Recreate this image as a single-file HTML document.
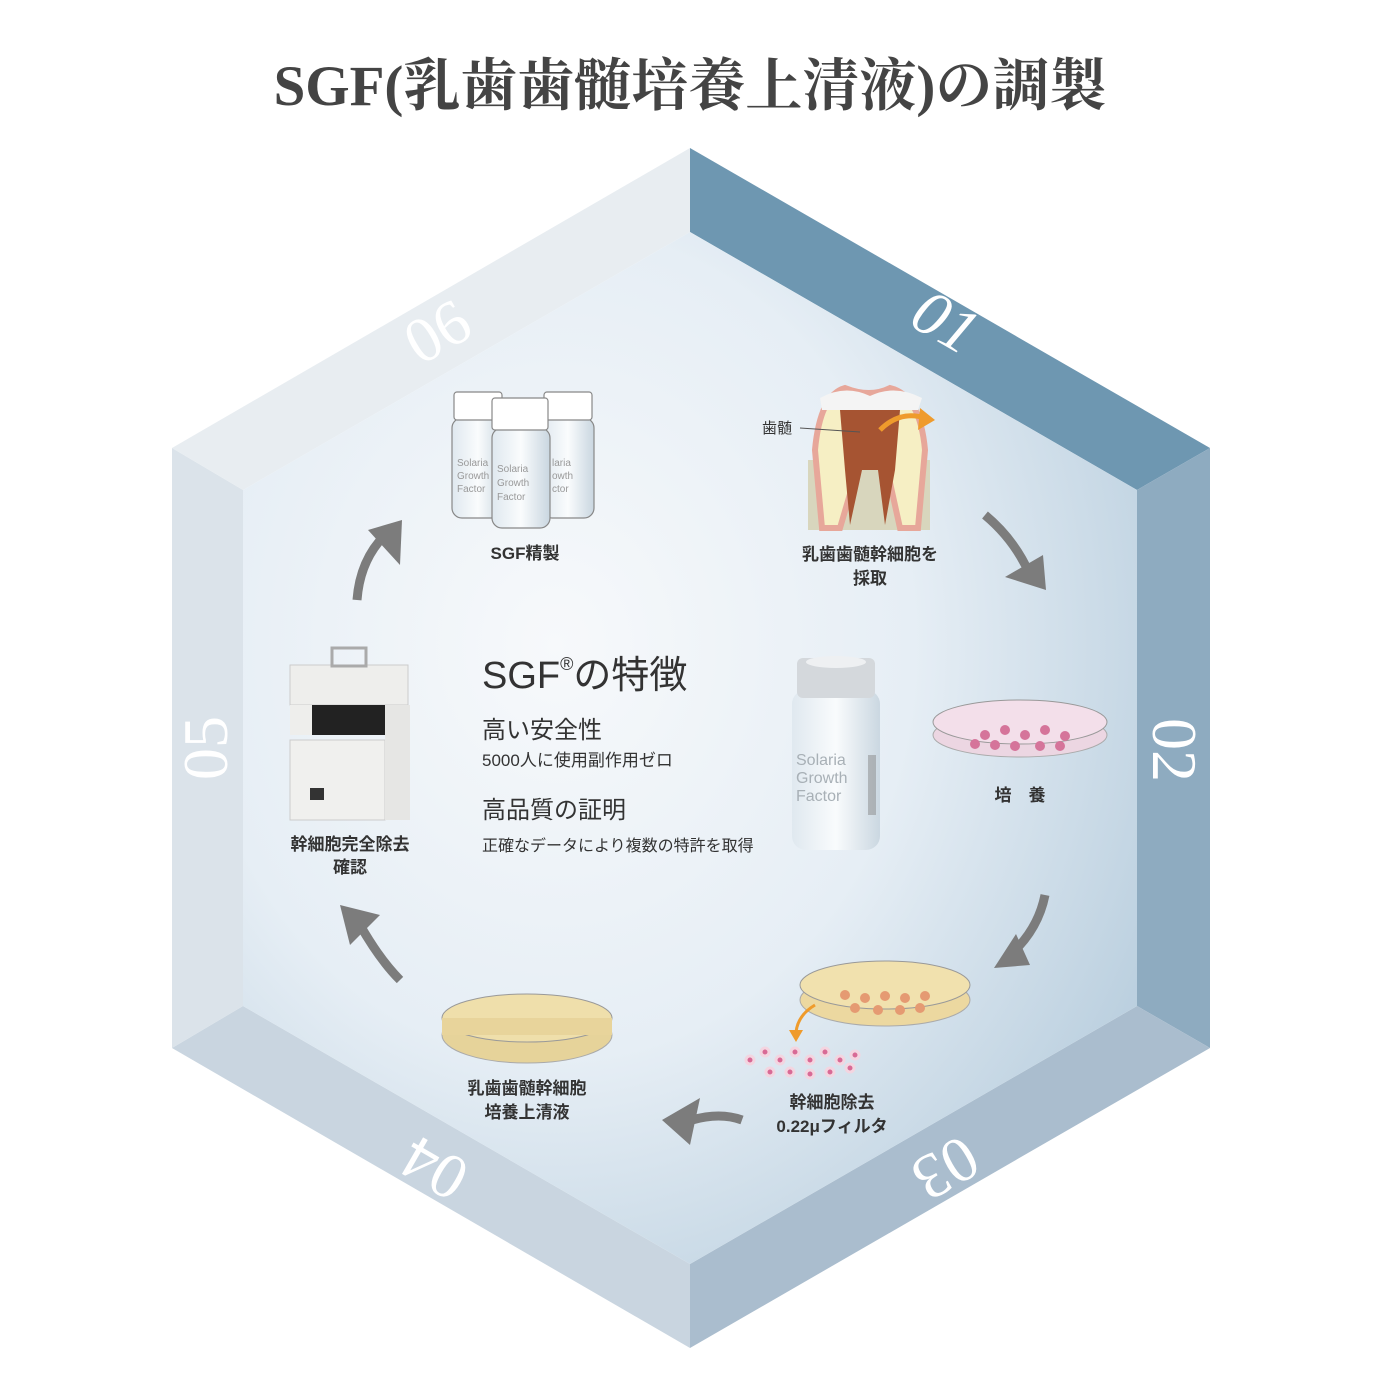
<!DOCTYPE html>
<html><head><meta charset="utf-8"><style>
html,body{margin:0;padding:0;background:#fff;}
svg{display:block;}
.t{font-family:"Liberation Sans","Noto Sans CJK JP",sans-serif;fill:#333;}
.b{font-weight:bold;}
.n{font-family:"Liberation Serif",serif;fill:#fff;font-size:64px;}
</style></head><body>
<svg width="1379" height="1373" viewBox="0 0 1379 1373" xmlns="http://www.w3.org/2000/svg">
<defs>
<radialGradient id="ig" cx="0.35" cy="0.4" r="0.8">
<stop offset="0" stop-color="#f7f9fb"/>
<stop offset="0.5" stop-color="#e6eef5"/>
<stop offset="1" stop-color="#b3cadb"/>
</radialGradient>
<linearGradient id="vial" x1="0" x2="1"><stop offset="0" stop-color="#dfe8ef"/><stop offset="0.5" stop-color="#fafcfd"/><stop offset="1" stop-color="#c9d6e0"/></linearGradient>
</defs>
<rect width="1379" height="1373" fill="#fff"/>
<text x="690" y="105" text-anchor="middle" font-family="Liberation Serif,'Noto Serif CJK SC',serif" font-weight="bold" font-size="57" fill="#444">SGF(乳歯歯髄培養上清液)の調製</text>

<polygon points="690,148 1210,448 1137,490 690,232" fill="#6e97b1"/>
<polygon points="1210,448 1210,1048 1137,1006 1137,490" fill="#8eabc0"/>
<polygon points="1210,1048 690,1348 690,1264 1137,1006" fill="#aabdce"/>
<polygon points="690,1348 172,1048 243,1006 690,1264" fill="#c9d5e0"/>
<polygon points="172,1048 172,448 243,490 243,1006" fill="#dbe3ea"/>
<polygon points="172,448 690,148 690,232 243,490" fill="#e8edf1"/>
<polygon points="690,232 1137,490 1137,1006 690,1264 243,1006 243,490" fill="url(#ig)"/>

<text class="n" transform="translate(935,340) rotate(30)" text-anchor="middle" font-style="italic">01</text>
<text class="n" transform="translate(1153,750) rotate(90)" text-anchor="middle">02</text>
<text class="n" transform="translate(935,1150) rotate(150)" text-anchor="middle">03</text>
<text class="n" transform="translate(445,1150) rotate(210)" text-anchor="middle">04</text>
<text class="n" transform="translate(227,748) rotate(-90)" text-anchor="middle">05</text>
<text class="n" transform="translate(448,350) rotate(-30)" text-anchor="middle">06</text>

<g stroke="#888" stroke-width="1.2">
<rect x="452" y="418" width="52" height="100" rx="10" fill="url(#vial)"/>
<rect x="454" y="392" width="48" height="28" rx="3" fill="#fff"/>
<rect x="542" y="418" width="52" height="100" rx="10" fill="url(#vial)"/>
<rect x="544" y="392" width="48" height="28" rx="3" fill="#fff"/>
<rect x="492" y="428" width="58" height="100" rx="10" fill="url(#vial)"/>
<rect x="492" y="398" width="56" height="32" rx="3" fill="#fff"/>
</g>
<g font-family="Liberation Sans,sans-serif" font-size="10" fill="#999"><text x="457" y="466">Solaria</text><text x="457" y="479">Growth</text><text x="457" y="492">Factor</text>
<text x="497" y="472">Solaria</text><text x="497" y="486">Growth</text><text x="497" y="500">Factor</text><text x="552" y="466">laria</text><text x="552" y="479">owth</text><text x="552" y="492">ctor</text></g>

<rect x="808" y="460" width="122" height="70" fill="#d8d6bd"/>
<path d="M815,450 Q820,395 845,388 Q870,398 890,388 Q920,395 925,450 L918,528 L900,528 L885,460 L860,460 L840,528 L822,528 Z" fill="#f6efc4" stroke="#e7a79a" stroke-width="6"/>
<path d="M840,410 L900,410 L895,470 L885,525 L878,470 L862,470 L850,525 L845,470 Z" fill="#a65432"/>
<path d="M820,398 Q845,384 870,396 Q895,384 922,398 L918,410 L822,410 Z" fill="#f4f4f4"/>
<path d="M880,430 Q900,410 925,418" fill="none" stroke="#ef9b2c" stroke-width="5"/>
<polygon points="920,408 935,420 918,430" fill="#ef9b2c"/>
<line x1="800" y1="428" x2="860" y2="432" stroke="#555"/>
<text class="t" x="762" y="433" font-size="15">歯髄</text>

<ellipse cx="1020" cy="735" rx="87" ry="22" fill="#ecd6e2" stroke="#aaa"/>
<ellipse cx="1020" cy="722" rx="87" ry="22" fill="#f3dfea" stroke="#999"/>
<g fill="#d5749a"><circle cx="985" cy="735" r="5"/><circle cx="1005" cy="730" r="5"/><circle cx="1025" cy="735" r="5"/><circle cx="1045" cy="730" r="5"/><circle cx="1065" cy="736" r="5"/><circle cx="995" cy="745" r="5"/><circle cx="1015" cy="746" r="5"/><circle cx="1040" cy="746" r="5"/><circle cx="1060" cy="746" r="5"/><circle cx="975" cy="744" r="5"/></g>

<rect x="792" y="690" width="88" height="160" rx="14" fill="url(#vial)" opacity="0.95"/>
<rect x="797" y="658" width="78" height="40" rx="6" fill="#d4d8dc"/>
<ellipse cx="836" cy="662" rx="30" ry="6" fill="#eef0f2"/>
<g font-family="Liberation Sans,sans-serif" font-size="16" fill="#a8b0b6"><text x="796" y="765">Solaria</text><text x="796" y="783">Growth</text><text x="796" y="801">Factor</text></g>
<rect x="868" y="755" width="8" height="60" fill="#888" opacity="0.5"/>

<ellipse cx="885" cy="1000" rx="85" ry="26" fill="#ecd8a0" stroke="#aaa"/>
<ellipse cx="885" cy="985" rx="85" ry="24" fill="#f1e1ae" stroke="#999"/>
<g fill="#e59a72"><circle cx="845" cy="995" r="5"/><circle cx="865" cy="998" r="5"/><circle cx="885" cy="996" r="5"/><circle cx="905" cy="998" r="5"/><circle cx="925" cy="996" r="5"/><circle cx="855" cy="1008" r="5"/><circle cx="878" cy="1010" r="5"/><circle cx="900" cy="1010" r="5"/><circle cx="920" cy="1008" r="5"/></g>
<path d="M815,1005 Q798,1015 796,1032" fill="none" stroke="#ef9b2c" stroke-width="3"/>
<polygon points="789,1030 803,1030 796,1042" fill="#ef9b2c"/>
<g fill="#d86a95" stroke="#f3d5e0" stroke-width="3"><circle cx="750" cy="1060" r="4"/><circle cx="765" cy="1052" r="4"/><circle cx="780" cy="1060" r="4"/><circle cx="795" cy="1052" r="4"/><circle cx="810" cy="1060" r="4"/><circle cx="825" cy="1052" r="4"/><circle cx="840" cy="1060" r="4"/><circle cx="855" cy="1055" r="4"/><circle cx="770" cy="1072" r="4"/><circle cx="790" cy="1072" r="4"/><circle cx="810" cy="1074" r="4"/><circle cx="830" cy="1072" r="4"/><circle cx="850" cy="1068" r="4"/></g>

<ellipse cx="527" cy="1035" rx="85" ry="28" fill="#e6d39a" stroke="#aaa"/>
<ellipse cx="527" cy="1018" rx="85" ry="24" fill="#efdfab" stroke="#999"/>
<rect x="442" y="1018" width="170" height="17" fill="#e8d49b"/>

<rect x="290" y="665" width="118" height="40" fill="#eeeeec" stroke="#ccc"/>
<rect x="332" y="648" width="34" height="18" fill="none" stroke="#aaa" stroke-width="3"/>
<rect x="290" y="705" width="22" height="30" fill="#eeeeec"/>
<polygon points="290,735 385,735 385,705 312,705 312,735" fill="#222"/>
<rect x="290" y="740" width="95" height="80" fill="#f0f0ee" stroke="#ccc"/>
<rect x="385" y="705" width="25" height="115" fill="#e6e6e4"/>
<rect x="310" y="788" width="14" height="12" fill="#333"/>

<g fill="none" stroke="#7c7c7c" stroke-width="9">
<path d="M357,600 Q360,560 385,535"/>
<path d="M985,515 Q1015,540 1030,575"/>
<path d="M1045,895 Q1038,930 1010,955"/>
<path d="M742,1120 Q720,1112 692,1120"/>
<path d="M400,980 Q380,960 360,925"/>
</g>
<g fill="#7c7c7c">
<polygon points="402,520 400,565 368,530"/>
<polygon points="1046,590 1005,577 1043,555"/>
<polygon points="994,968 1016,934 1030,965"/>
<polygon points="662,1120 700,1098 690,1145"/>
<polygon points="340,905 380,915 350,945"/>
</g>

<text class="t" x="482" y="688" font-size="38">SGF<tspan font-size="18" dy="-18">®</tspan><tspan dy="18">の特徴</tspan></text>
<text class="t" x="482" y="738" font-size="24">高い安全性</text>
<text class="t" x="482" y="766" font-size="17">5000人に使用副作用ゼロ</text>
<text class="t" x="482" y="818" font-size="24">高品質の証明</text>
<text class="t" x="482" y="851" font-size="16">正確なデータにより複数の特許を取得</text>

<g class="t b" font-size="17" text-anchor="middle">
<text x="525" y="559">SGF精製</text>
<text x="870" y="560">乳歯歯髄幹細胞を</text>
<text x="870" y="584">採取</text>
<text x="1020" y="801">培　養</text>
<text x="832" y="1108">幹細胞除去</text>
<text x="832" y="1132">0.22μフィルタ</text>
<text x="527" y="1094">乳歯歯髄幹細胞</text>
<text x="527" y="1118">培養上清液</text>
<text x="350" y="850">幹細胞完全除去</text>
<text x="350" y="873">確認</text>
</g>
</svg>
</body></html>
